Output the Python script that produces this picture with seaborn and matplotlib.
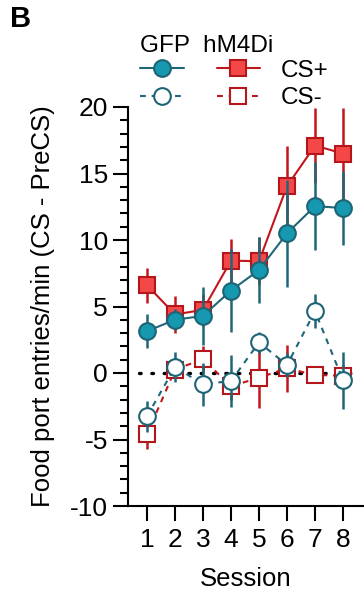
import matplotlib
matplotlib.use("Agg")
import matplotlib.pyplot as plt
from matplotlib.lines import Line2D
import seaborn as sns
import numpy as np
import pandas as pd

sessions = [1, 2, 3, 4, 5, 6, 7, 8]
gfp_csp = [3.15, 4.0, 4.3, 6.2, 7.75, 10.5, 12.55, 12.4]
gfp_csp_sem = [1.3, 0.8, 2.2, 3.15, 2.5, 4.0, 3.3, 2.8]
hm_csp = [6.6, 4.4, 4.75, 8.45, 8.4, 14.05, 17.1, 16.5]
hm_csp_sem = [1.3, 1.4, 1.2, 1.6, 1.8, 3.0, 2.8, 3.4]
gfp_csm = [-3.25, 0.45, -0.85, -0.6, 2.3, 0.6, 4.65, -0.55]
gfp_csm_sem = [1.15, 1.1, 1.6, 1.95, 0.8, 0.9, 1.3, 2.15]
hm_csm = [-4.6, 0.25, 1.05, -1.0, -0.35, 0.35, -0.15, -0.2]
hm_csm_sem = [1.15, 0.5, 1.0, 1.0, 2.3, 1.75, 0.5, 0.8]
y_ticks = [-10, -5, 0, 5, 10, 15, 20]

sns.set_style("ticks")
plt.rcParams['font.family'] = ['Liberation Sans', 'DejaVu Sans']
plt.rcParams['text.color'] = 'black'
plt.rcParams['axes.labelcolor'] = 'black'
plt.rcParams['xtick.color'] = 'black'
plt.rcParams['ytick.color'] = 'black'

TEAL_FILL = "#1598B0"
TEAL_EDGE = "#1D6475"
TEAL_LINE = "#1F6678"
RED_FILL = "#F44848"
RED_EDGE = "#B5161C"
RED_LINE = "#C2161D"

fig = plt.figure(figsize=(3.64, 5.96), dpi=100)
ax = fig.add_axes([128/364, 90/596, 1 - 128/364, (506-107)/596])

MS = 12
DASH = (0, (2.8, 2.8))
series = [
    (hm_csp, hm_csp_sem, "s", RED_FILL, RED_EDGE, RED_LINE, "-", 2),
    (hm_csm, hm_csm_sem, "s", "white", RED_EDGE, RED_LINE, DASH, 4),
    (gfp_csp, gfp_csp_sem, "o", TEAL_FILL, TEAL_EDGE, TEAL_LINE, "-", 6),
    (gfp_csm, gfp_csm_sem, "o", "white", TEAL_EDGE, TEAL_LINE, DASH, 8),
]

ax.hlines(0, 0.72, 8.55, colors="black", linestyles=(0, (0.5, 3.2)), linewidth=2.4,
          capstyle="round", zorder=1)

for vals, sem, mk, fc, ec, lc, ls, z in series:
    df = pd.DataFrame({"session": sessions, "value": vals})
    ax.errorbar(sessions, vals, yerr=sem, fmt="none", ecolor=lc, elinewidth=1.8,
                capsize=0, zorder=z)
    sns.lineplot(data=df, x="session", y="value", ax=ax, color=lc, linestyle=ls,
                 linewidth=1.5, marker=mk, markersize=MS, markerfacecolor=fc,
                 markeredgecolor=ec, markeredgewidth=1.5, errorbar=None, zorder=z + 1)

ax.set_xlim(0.32, 8.75)
ax.set_ylim(-10, 20)
ax.set_xticks(sessions)
ax.set_xticklabels([str(s) for s in sessions])
ax.set_yticks(y_ticks)
ax.set_yticklabels([str(t) for t in y_ticks])
ax.set_yticks(np.arange(-10, 21, 1), minor=True)
for s in ["top", "right"]:
    ax.spines[s].set_visible(False)
for s in ["left", "bottom"]:
    ax.spines[s].set_linewidth(1.5)
    ax.spines[s].set_color("black")
ax.tick_params(axis="both", which="major", length=11, width=1.5, labelsize=19,
               colors="black", pad=3.5)
ax.tick_params(axis="x", pad=5)
ax.tick_params(axis="y", which="minor", length=6, width=1.5, colors="black")
ax.set_xlabel("Session", fontsize=18.5, labelpad=11)
ax.set_ylabel("Food port entries/min (CS - PreCS)", fontsize=18.5, labelpad=11)

def h(mk, fc, ec, lc, ls):
    return Line2D([], [], color=lc, linestyle=ls, linewidth=1.5, marker=mk,
                  markersize=MS, markerfacecolor=fc, markeredgecolor=ec,
                  markeredgewidth=1.5)

handles = [h("o", TEAL_FILL, TEAL_EDGE, TEAL_LINE, "-"),
           h("o", "white", TEAL_EDGE, TEAL_LINE, DASH),
           h("s", RED_FILL, RED_EDGE, RED_LINE, "-"),
           h("s", "white", RED_EDGE, RED_LINE, DASH)]
labels = ["", "", "CS+", "CS-"]
leg = fig.legend(handles, labels, ncol=2, loc="upper left",
                 bbox_to_anchor=(140/364, 1 - 35/596), frameon=False,
                 fontsize=17.5, title="GFP  hM4Di", title_fontsize=17.5,
                 alignment="left", handlelength=1.8, handletextpad=0.85,
                 columnspacing=0.5, labelspacing=0.22, borderpad=0,
                 borderaxespad=0)
leg._legend_box.sep = 2

fig.text(10/364, 1 - 5/596, "B", fontsize=21, fontweight="bold", va="top", ha="left")

fig.savefig("out.png", dpi=100)
